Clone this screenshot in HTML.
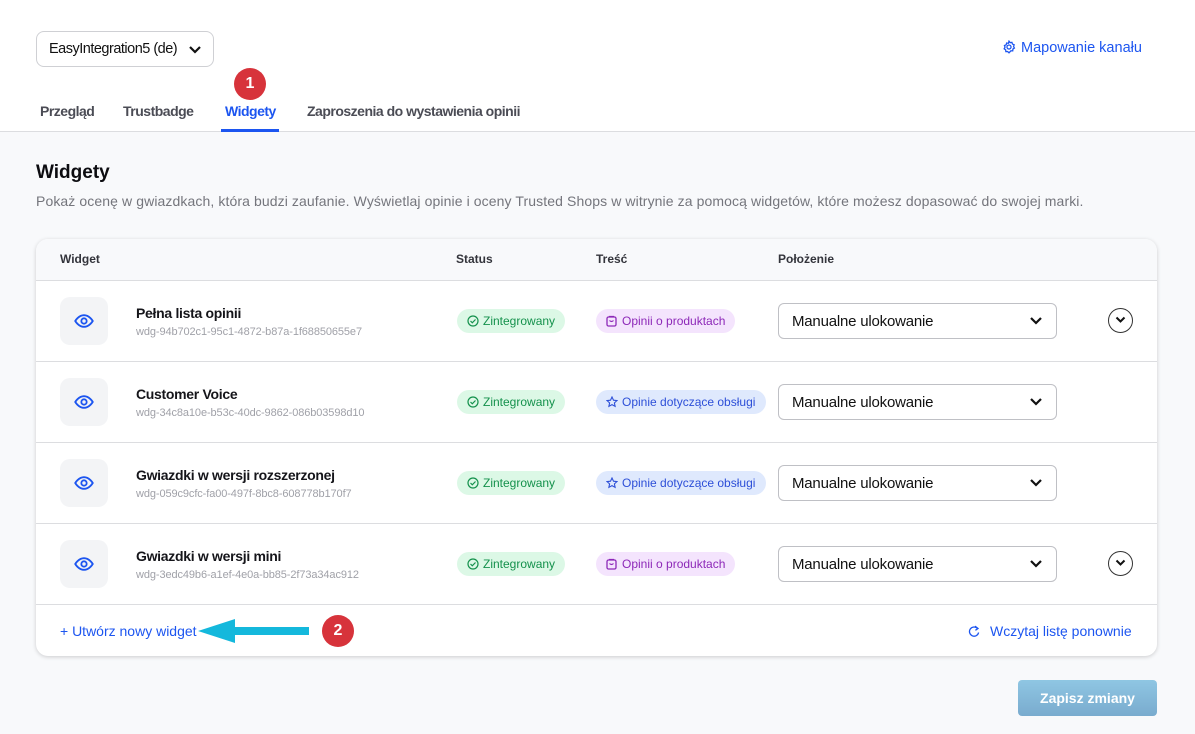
<!DOCTYPE html>
<html><head><meta charset="utf-8">
<style>
*{box-sizing:border-box;margin:0;padding:0}
body{width:1195px;height:734px;overflow:hidden;background:#f8f9fb;font-family:"Liberation Sans",Arial,sans-serif;position:relative;color:#111}
.abs{position:absolute}
.top{position:absolute;left:0;top:0;width:1195px;height:132px;background:#fff;border-bottom:1px solid #dcdde0}
.dd{left:36px;top:31px;width:178px;height:36px;border:1px solid #cfd0d4;border-radius:8px;background:#fff;font-size:14.5px;line-height:34px;padding-left:12px;color:#111;letter-spacing:-0.5px;white-space:nowrap}
.tab{top:103px;font-size:14px;font-weight:bold;color:#4b4c55;letter-spacing:-0.5px}
.badge{width:32px;height:32px;border-radius:50%;background:#d7333b;color:#fff;font-weight:bold;font-size:16px;text-align:center;line-height:32px}
.card{left:36px;top:239px;width:1121px;height:417px;background:#fff;border-radius:12px;box-shadow:0 1px 4px rgba(0,0,0,.18);overflow:hidden}
.hdr{position:absolute;left:0;top:0;width:100%;height:42px;background:#f8f9fb;border-bottom:1px solid #dcdde0}
.hl{position:absolute;top:13px;font-size:12px;font-weight:bold;color:#33343b}
.row{position:absolute;left:0;width:100%;height:81px;border-bottom:1px solid #dcdde0}
.tile{position:absolute;left:24px;top:16px;width:48px;height:48px;border-radius:10px;background:#f3f4f6}
.tile svg{position:absolute;left:14px;top:14px}
.nm{position:absolute;left:100px;top:24px;font-size:14px;font-weight:bold;color:#15151a;letter-spacing:-0.3px}
.id{position:absolute;left:100px;top:45px;font-size:11px;color:#a0a1a8;letter-spacing:-0.1px}
.pill{position:absolute;top:28px;height:24px;border-radius:12px;font-size:12px;line-height:24px;padding-left:26px;white-space:nowrap}
.pill svg{position:absolute;left:10px;top:6px}
.g{left:421px;width:108px;background:#dcf8e6;color:#14914c}
.p{left:560px;width:139px;background:#f4e4fd;color:#8d28b8}
.b{left:560px;width:170px;background:#dfe9fd;color:#2d4fd8}
.sel{position:absolute;left:742px;top:22px;width:279px;height:36px;border:1px solid #bfc0c5;border-radius:6px;font-size:15px;line-height:36px;padding-left:13px;color:#111;letter-spacing:-0.2px}
.sel svg{position:absolute;right:13px;top:12px}
.exp{position:absolute;left:1072px;top:27px;width:25px;height:25px;border:1.3px solid #333;border-radius:50%}
.exp svg{position:absolute;left:6px;top:7px}
.link{color:#1c55f0;font-size:14px}
.save{left:1018px;top:680px;width:139px;height:36px;border-radius:4px;background:linear-gradient(#8fc6e3,#79abce);color:#fff;font-weight:bold;font-size:14px;text-align:center;line-height:36px}
</style></head><body>
<div class="top"></div>
<div class="abs dd">EasyIntegration5 (de)<svg class="abs" style="left:151px;top:13px" width="14" height="10" viewBox="0 0 14 10"><path d="M2 2l5 5 5-5" fill="none" stroke="#111" stroke-width="2.2"/></svg></div>
<div class="abs link" style="left:1002px;top:40px;font-size:14.5px">
<svg width="14" height="14" viewBox="0 0 24 24" style="vertical-align:-2px;margin-right:5px"><path d="M12 2l2 2.5 3-.5.9 3 2.9 1.2-1 3 1.5 2.6-2.6 1.7-.3 3.1-3.1-.1L12 22l-2.3-2.2-3.1.1-.3-3.1L3.7 15l1.5-2.6-1-3L7.1 8.2 8 5.2l3 .5z" fill="none" stroke="#1c55f0" stroke-width="2.2"/><circle cx="12" cy="12" r="3.5" fill="none" stroke="#1c55f0" stroke-width="2.2"/></svg>Mapowanie kanału</div>
<div class="abs tab" style="left:40px">Przegląd</div>
<div class="abs tab" style="left:123px">Trustbadge</div>
<div class="abs tab" style="left:225px;color:#1c55f0">Widgety</div>
<div class="abs tab" style="left:307px">Zaproszenia do wystawienia opinii</div>
<div class="abs" style="left:221px;top:129px;width:58px;height:3px;background:#1c55f0"></div>
<div class="abs badge" style="left:234px;top:68px">1</div>

<div class="abs" style="left:36px;top:162px;font-size:19px;font-weight:bold;color:#0c0c10">Widgety</div>
<div class="abs" style="left:36px;top:193px;font-size:14px;color:#74757c;letter-spacing:0.1px;white-space:nowrap">Pokaż ocenę w gwiazdkach, która budzi zaufanie. Wyświetlaj opinie i oceny Trusted Shops w witrynie za pomocą widgetów, które możesz dopasować do swojej marki.</div>

<div class="abs card">
<div class="hdr">
<div class="hl" style="left:24px">Widget</div>
<div class="hl" style="left:420px">Status</div>
<div class="hl" style="left:560px">Treść</div>
<div class="hl" style="left:742px">Położenie</div>
</div>

<div class="row" style="top:42px">
<div class="tile"><svg width="20" height="20" viewBox="0 0 24 24"><path d="M1.5 12S5.5 5 12 5s10.5 7 10.5 7-4 7-10.5 7S1.5 12 1.5 12z" fill="none" stroke="#1c55f0" stroke-width="2.2"/><circle cx="12" cy="12" r="3.2" fill="none" stroke="#1c55f0" stroke-width="2.2"/></svg></div>
<div class="nm">Pełna lista opinii</div><div class="id">wdg-94b702c1-95c1-4872-b87a-1f68850655e7</div>
<div class="pill g"><svg width="12" height="12" viewBox="0 0 12 12"><circle cx="6" cy="6" r="5" fill="none" stroke="#14914c" stroke-width="1.2"/><path d="M3.5 6l1.8 1.8L8.5 4.5" fill="none" stroke="#14914c" stroke-width="1.2"/></svg>Zintegrowany</div>
<div class="pill p"><svg width="11" height="12" viewBox="0 0 11 12"><rect x="1" y="2" width="9" height="9" rx="1.5" fill="none" stroke="#8d28b8" stroke-width="1.3"/><path d="M3.5 2.5V1.5h4v1M3.5 5.5q2 2 4 0" fill="none" stroke="#8d28b8" stroke-width="1.2"/></svg>Opinii o produktach</div>
<div class="sel">Manualne ulokowanie<svg width="14" height="10" viewBox="0 0 14 10"><path d="M2 2l5 5 5-5" fill="none" stroke="#111" stroke-width="2.2"/></svg></div>
<div class="exp"><svg width="11" height="8" viewBox="0 0 11 8"><path d="M1.5 1.5l4 4 4-4" fill="none" stroke="#111" stroke-width="2"/></svg></div>
</div>

<div class="row" style="top:123px">
<div class="tile"><svg width="20" height="20" viewBox="0 0 24 24"><path d="M1.5 12S5.5 5 12 5s10.5 7 10.5 7-4 7-10.5 7S1.5 12 1.5 12z" fill="none" stroke="#1c55f0" stroke-width="2.2"/><circle cx="12" cy="12" r="3.2" fill="none" stroke="#1c55f0" stroke-width="2.2"/></svg></div>
<div class="nm">Customer Voice</div><div class="id">wdg-34c8a10e-b53c-40dc-9862-086b03598d10</div>
<div class="pill g"><svg width="12" height="12" viewBox="0 0 12 12"><circle cx="6" cy="6" r="5" fill="none" stroke="#14914c" stroke-width="1.2"/><path d="M3.5 6l1.8 1.8L8.5 4.5" fill="none" stroke="#14914c" stroke-width="1.2"/></svg>Zintegrowany</div>
<div class="pill b"><svg width="12" height="12" viewBox="0 0 12 12"><path d="M6 1l1.5 3.2 3.4.4-2.5 2.3.7 3.4L6 8.6 2.9 10.3l.7-3.4L1.1 4.6l3.4-.4z" fill="none" stroke="#2d4fd8" stroke-width="1.1"/></svg>Opinie dotyczące obsługi</div>
<div class="sel">Manualne ulokowanie<svg width="14" height="10" viewBox="0 0 14 10"><path d="M2 2l5 5 5-5" fill="none" stroke="#111" stroke-width="2.2"/></svg></div>
</div>

<div class="row" style="top:204px">
<div class="tile"><svg width="20" height="20" viewBox="0 0 24 24"><path d="M1.5 12S5.5 5 12 5s10.5 7 10.5 7-4 7-10.5 7S1.5 12 1.5 12z" fill="none" stroke="#1c55f0" stroke-width="2.2"/><circle cx="12" cy="12" r="3.2" fill="none" stroke="#1c55f0" stroke-width="2.2"/></svg></div>
<div class="nm">Gwiazdki w wersji rozszerzonej</div><div class="id">wdg-059c9cfc-fa00-497f-8bc8-608778b170f7</div>
<div class="pill g"><svg width="12" height="12" viewBox="0 0 12 12"><circle cx="6" cy="6" r="5" fill="none" stroke="#14914c" stroke-width="1.2"/><path d="M3.5 6l1.8 1.8L8.5 4.5" fill="none" stroke="#14914c" stroke-width="1.2"/></svg>Zintegrowany</div>
<div class="pill b"><svg width="12" height="12" viewBox="0 0 12 12"><path d="M6 1l1.5 3.2 3.4.4-2.5 2.3.7 3.4L6 8.6 2.9 10.3l.7-3.4L1.1 4.6l3.4-.4z" fill="none" stroke="#2d4fd8" stroke-width="1.1"/></svg>Opinie dotyczące obsługi</div>
<div class="sel">Manualne ulokowanie<svg width="14" height="10" viewBox="0 0 14 10"><path d="M2 2l5 5 5-5" fill="none" stroke="#111" stroke-width="2.2"/></svg></div>
</div>

<div class="row" style="top:285px">
<div class="tile"><svg width="20" height="20" viewBox="0 0 24 24"><path d="M1.5 12S5.5 5 12 5s10.5 7 10.5 7-4 7-10.5 7S1.5 12 1.5 12z" fill="none" stroke="#1c55f0" stroke-width="2.2"/><circle cx="12" cy="12" r="3.2" fill="none" stroke="#1c55f0" stroke-width="2.2"/></svg></div>
<div class="nm">Gwiazdki w wersji mini</div><div class="id">wdg-3edc49b6-a1ef-4e0a-bb85-2f73a34ac912</div>
<div class="pill g"><svg width="12" height="12" viewBox="0 0 12 12"><circle cx="6" cy="6" r="5" fill="none" stroke="#14914c" stroke-width="1.2"/><path d="M3.5 6l1.8 1.8L8.5 4.5" fill="none" stroke="#14914c" stroke-width="1.2"/></svg>Zintegrowany</div>
<div class="pill p"><svg width="11" height="12" viewBox="0 0 11 12"><rect x="1" y="2" width="9" height="9" rx="1.5" fill="none" stroke="#8d28b8" stroke-width="1.3"/><path d="M3.5 2.5V1.5h4v1M3.5 5.5q2 2 4 0" fill="none" stroke="#8d28b8" stroke-width="1.2"/></svg>Opinii o produktach</div>
<div class="sel">Manualne ulokowanie<svg width="14" height="10" viewBox="0 0 14 10"><path d="M2 2l5 5 5-5" fill="none" stroke="#111" stroke-width="2.2"/></svg></div>
<div class="exp"><svg width="11" height="8" viewBox="0 0 11 8"><path d="M1.5 1.5l4 4 4-4" fill="none" stroke="#111" stroke-width="2"/></svg></div>
</div>

<div class="abs link" style="left:24px;top:384px;white-space:nowrap">+ Utwórz nowy widget</div>
<div class="abs link" style="left:932px;top:384px;white-space:nowrap"><svg width="12" height="13" viewBox="0 0 12 13" style="vertical-align:-2px;margin-right:10px"><path d="M9.5 3.5A4.6 4.6 0 1 0 10.6 7.5" fill="none" stroke="#1c55f0" stroke-width="1.3"/><path d="M7 1.2l3 2.3-2.6 1.8" fill="none" stroke="#1c55f0" stroke-width="1.3"/></svg>Wczytaj listę ponownie</div>
</div>

<svg class="abs" style="left:195px;top:616px" width="120" height="30" viewBox="0 0 120 30"><path d="M3 15L40 3v8h74v8H40v8z" fill="#14b8dc"/></svg>
<div class="abs badge" style="left:322px;top:615px">2</div>

<div class="abs save">Zapisz zmiany</div>
</body></html>
